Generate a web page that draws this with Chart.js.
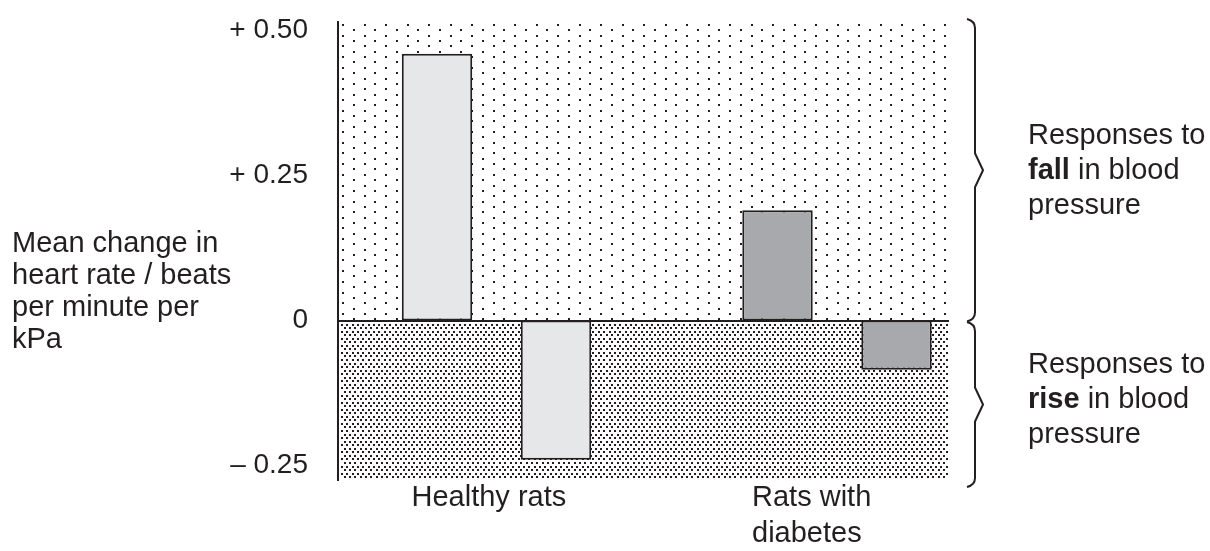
<!DOCTYPE html>
<html><head><meta charset="utf-8">
<script src="https://cdn.jsdelivr.net/npm/chart.js@4.4.1/dist/chart.umd.min.js"></script>
<style>html,body{margin:0;padding:0;background:#fff}#wrap{position:relative;width:1210px;height:551px}</style>
</head><body><div id="wrap"><canvas id="c"></canvas></div>
<script>
// ---- data ----
const categories = ['Healthy rats', ['Rats with', 'diabetes']];
const fallResponse = [0.46, 0.19];     // responses to fall in blood pressure
const riseResponse = [-0.24, -0.085];  // responses to rise in blood pressure
const yTickValues = [0.5, 0.25, 0, -0.25];
const yTickLabels = ['+ 0.50', '+ 0.25', '0', '\u2013 0.25'];
const yTitleLines = ['Mean change in', 'heart rate / beats', 'per minute per', 'kPa'];
const upperNote = ['Responses to', '**fall** in blood', 'pressure'];
const lowerNote = ['Responses to', '**rise** in blood', 'pressure'];

// ---- styles ----
const INK = '#231f20';
const FONT = "'Liberation Sans', Arial, sans-serif";
const barFills = ['#e6e7e8', '#a7a9ac'];

function drawRich(ctx, line, x, y, size) {
  const parts = line.split('**');
  let cx = x;
  parts.forEach((p, i) => {
    if (!p) return;
    ctx.font = (i % 2 ? 'bold ' : '') + size + 'px ' + FONT;
    ctx.fillText(p, cx, y);
    cx += ctx.measureText(p).width;
  });
}

function brace(ctx, x, tipX, endX, yTop, yBot) {
  const mid = (yTop + yBot) / 2;
  ctx.beginPath();
  ctx.moveTo(endX, yTop);
  ctx.quadraticCurveTo(x, yTop + 2, x, yTop + 9);
  ctx.lineTo(x, mid - 17);
  ctx.lineTo(tipX, mid);
  ctx.lineTo(x, mid + 17);
  ctx.lineTo(x, yBot - 9);
  ctx.quadraticCurveTo(x, yBot - 2, endX, yBot);
  ctx.stroke();
}

const decor = {
  id: 'decor',
  beforeDraw(chart) {
    const {ctx, chartArea: a, scales: {y}} = chart;
    const y0 = y.getPixelForValue(0);
    ctx.save();
    ctx.fillStyle = INK;
    const sx = 21.5, sy = 5.35;
    for (let r = 0; a.top + 2 + r * sy < y0 - 2; r++) {
      const yy = a.top + 2 + r * sy;
      const off = (r % 2) * sx / 2;
      for (let xx = a.left + 4 + off; xx < a.right - 2; xx += sx) ctx.fillRect(Math.round(xx), Math.round(yy), 2, 2);
    }
    const dx = 5.35, dy = 3.55;
    for (let r = 0; y0 + 3 + r * dy < a.bottom - 1; r++) {
      const yy = y0 + 3 + r * dy;
      const off = (r % 2) * dx / 2;
      for (let xx = a.left + 3 + off; xx < a.right - 1; xx += dx) ctx.fillRect(Math.round(xx), Math.round(yy), 2, 2);
    }
    ctx.restore();
  },
  afterDatasetsDraw(chart) {
    const {ctx, chartArea: a, scales: {y}} = chart;
    const y0 = Math.round(y.getPixelForValue(0));
    ctx.save();
    ctx.fillStyle = INK;
    ctx.fillRect(a.left, y0 - 1, a.right - a.left, 2);
    ctx.restore();
  },
  afterDraw(chart) {
    const {ctx, chartArea: a, scales: {y}} = chart;
    const y0 = y.getPixelForValue(0);
    ctx.save();
    ctx.strokeStyle = INK;
    ctx.lineWidth = 2;
    ctx.lineJoin = 'round';
    const bx = a.right + 26, tip = a.right + 34, end = a.right + 18;
    brace(ctx, bx, tip, end, a.top - 3, y0 + 1);
    brace(ctx, bx, tip, end, y0 + 1.5, a.bottom + 7);
    ctx.fillStyle = INK;
    ctx.textBaseline = 'middle';
    ctx.textAlign = 'left';
    const nx = a.right + 79;
    const upMid = (a.top + y0) / 2, loMid = (y0 + a.bottom) / 2;
    upperNote.forEach((l, i) => drawRich(ctx, l, nx, upMid + (i - 1) * 35, 29));
    lowerNote.forEach((l, i) => drawRich(ctx, l, nx, loMid + (i - 1) * 35, 29));
    ctx.font = '29px ' + FONT;
    yTitleLines.forEach((l, i) => ctx.fillText(l, 12, y0 - 77 + i * 32));
    ctx.restore();
  }
};

new Chart(document.getElementById('c'), {
  type: 'bar',
  data: {
    datasets: [
      { label: 'Fall in blood pressure', data: fallResponse.map((v, i) => ({x: i, y: v})), backgroundColor: barFills },
      { label: 'Rise in blood pressure', data: riseResponse.map((v, i) => ({x: i, y: v})), backgroundColor: barFills }
    ]
  },
  options: {
    responsive: true,
    maintainAspectRatio: false,
    animation: false,
    events: [],
    layout: { padding: { top: 22, right: 261, bottom: 0, left: 0 } },
    categoryPercentage: 0.699,
    barPercentage: 0.592,
    datasets: { bar: { borderColor: INK, borderWidth: 2, borderSkipped: false } },
    plugins: { legend: { display: false }, tooltip: { enabled: false }, title: { display: false } },
    scales: {
      x: {
        type: 'linear',
        offset: false,
        min: -0.4655,
        max: 1.3289,
        grid: { display: false, drawTicks: false, offset: false },
        border: { display: false },
        afterBuildTicks: s => { s.ticks = categories.map((c, i) => ({value: i})); },
        afterFit: s => { s.height = 71; s.paddingLeft = 0; s.paddingRight = 0; },
        ticks: {
          autoSkip: false,
          maxRotation: 0,
          align: 'start',
          labelOffset: -85,
          padding: 0,
          color: INK,
          font: { family: FONT, size: 29, lineHeight: 1.24 },
          callback: v => categories[v]
        }
      },
      y: {
        type: 'linear',
        min: -0.275,
        max: 0.5147,
        grid: { display: false, drawTicks: false },
        border: { display: true, color: INK, width: 2 },
        afterBuildTicks: s => { s.ticks = yTickValues.map(v => ({value: v})); },
        afterFit: s => { s.width = 338; s.paddingTop = 0; s.paddingBottom = 0; },
        ticks: {
          autoSkip: false,
          padding: 30,
          color: INK,
          font: { family: FONT, size: 28 },
          callback: v => yTickLabels[yTickValues.indexOf(v)]
        }
      }
    }
  },
  plugins: [decor]
});
</script>
</body></html>
